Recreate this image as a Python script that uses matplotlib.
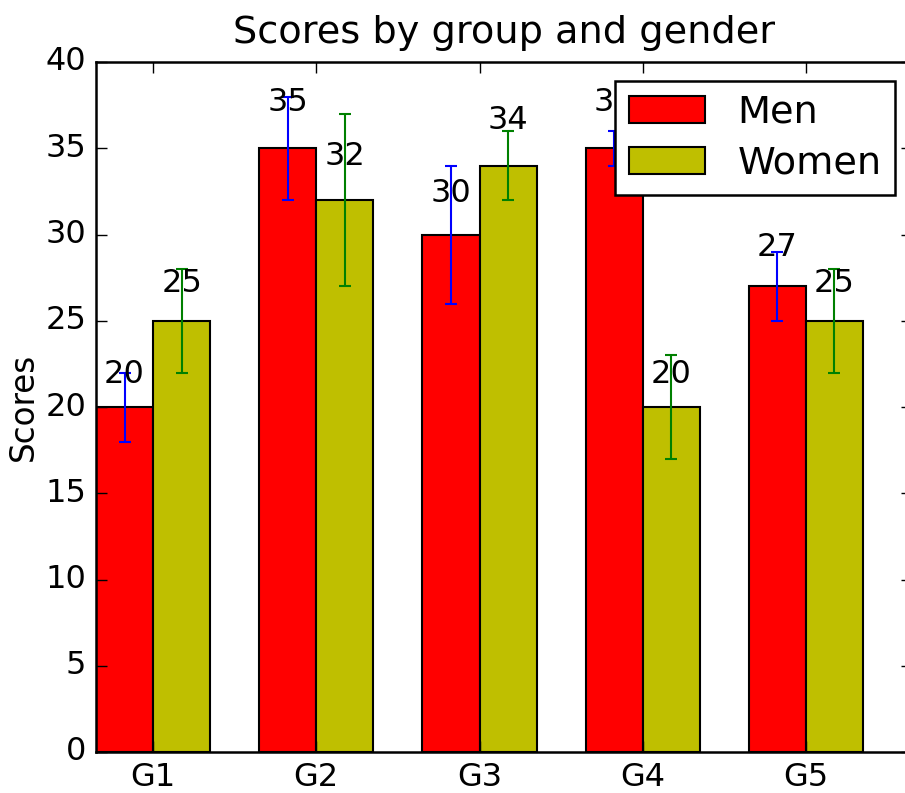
import matplotlib
matplotlib.use("Agg")
import matplotlib.pyplot as plt
import numpy as np

plt.style.use("classic")

groups = ["G1", "G2", "G3", "G4", "G5"]
men_means = [20, 35, 30, 35, 27]
men_std = [2, 3, 4, 1, 2]
women_means = [25, 32, 34, 20, 25]
women_std = [3, 5, 2, 3, 3]

ind = np.arange(len(groups))
width = 0.35

fig = plt.figure(figsize=(9.05, 7.93), dpi=100)
ax = fig.add_axes([96 / 905, 41 / 793, 816 / 905, 690 / 793])

rects1 = ax.bar(ind, men_means, width, color="r", edgecolor="k", linewidth=1.5,
                yerr=men_std, ecolor="b", capsize=4.5, align="edge",
                error_kw=dict(elinewidth=1.5, capthick=1.5))
rects2 = ax.bar(ind + width, women_means, width, color="y", edgecolor="k", linewidth=1.5,
                yerr=women_std, ecolor="g", capsize=4.5, align="edge",
                error_kw=dict(elinewidth=1.5, capthick=1.5))

ax.set_xlim(0, 5)
ax.set_ylim(0, 40)
ax.set_ylabel("Scores", fontsize=23.5, labelpad=4)
ax.set_title("Scores by group and gender", fontsize=27.5, pad=14)
ax.set_xticks(ind + width)
ax.set_xticklabels(groups)
ax.tick_params(labelsize=23, direction="in", length=8, width=1, top=True, right=True, pad=7)
for s in ax.spines.values():
    s.set_linewidth(1.8)

leg = ax.legend((rects1[0], rects2[0]), ("Men", "Women"), fontsize=27.5, loc="upper right",
                bbox_to_anchor=(0.979, 0.972), borderaxespad=0, handlelength=2.0,
                handletextpad=0.85, labelspacing=0.4, borderpad=0.35, frameon=True,
                fancybox=False)
leg.get_frame().set_linewidth(1.8)


def autolabel(rects):
    for rect in rects:
        h = rect.get_height()
        ax.text(rect.get_x() + rect.get_width() / 2.0, 1.05 * h, "%d" % int(h),
                ha="center", va="bottom", fontsize=23)


autolabel(rects1)
autolabel(rects2)

fig.savefig("out.png", dpi=100)
